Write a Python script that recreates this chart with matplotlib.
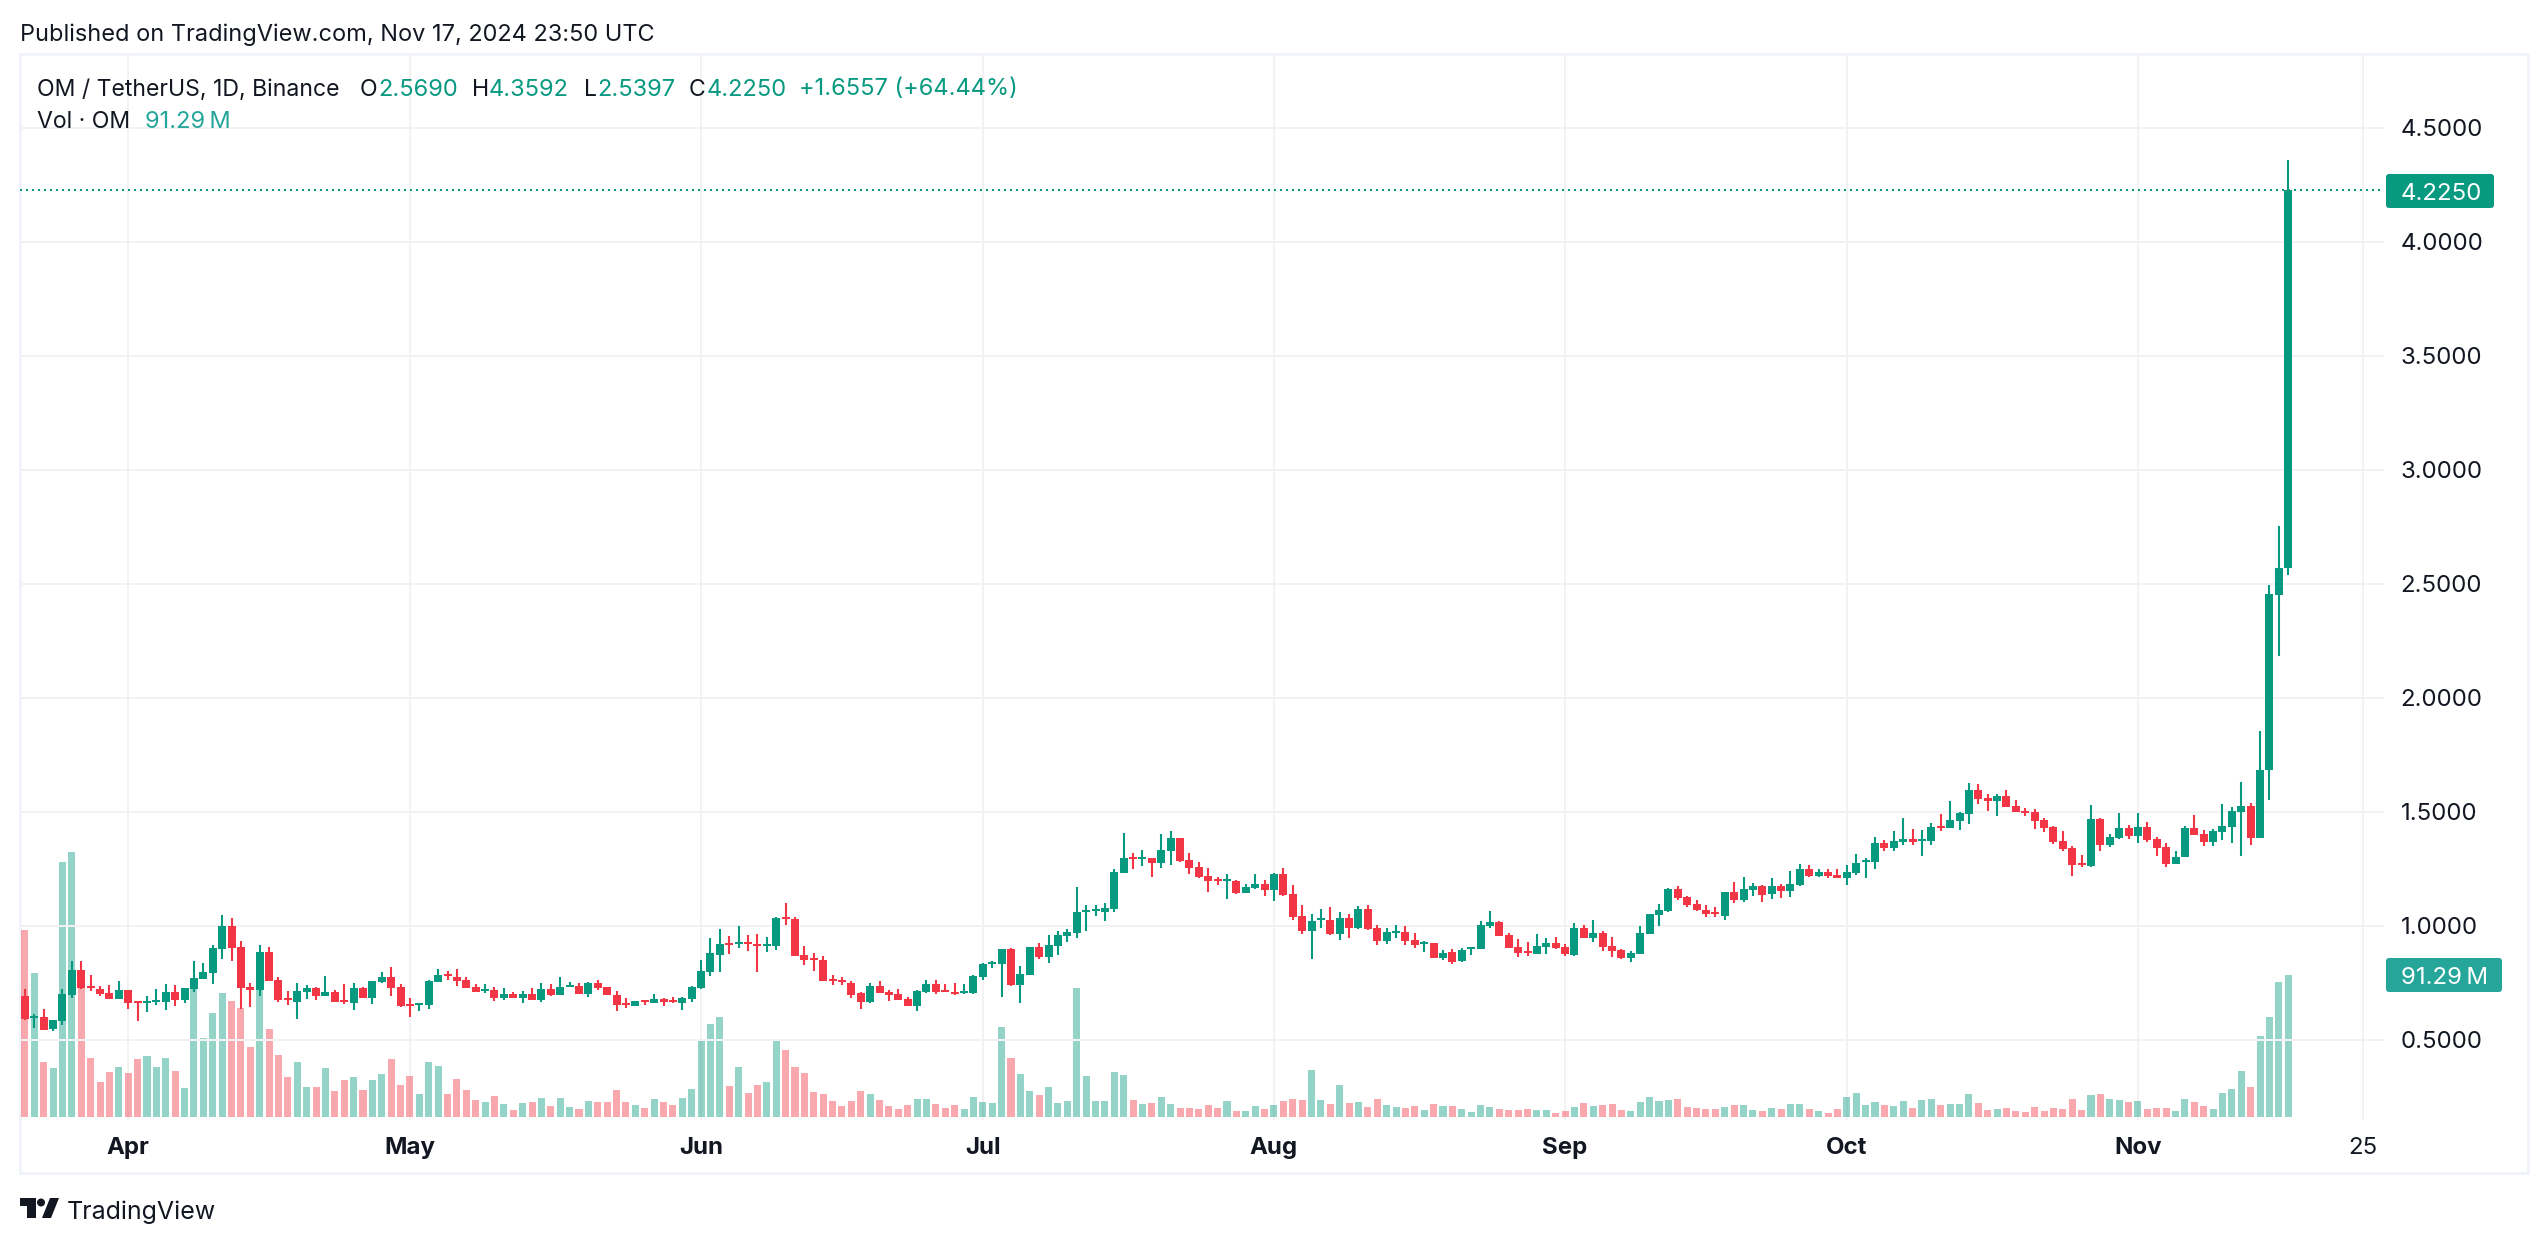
import numpy as np
import matplotlib
matplotlib.use("Agg")
import matplotlib.pyplot as plt
from matplotlib.patches import Rectangle, FancyBboxPatch, Polygon, Circle

plt.rcParams["font.family"] = ["Inter", "DejaVu Sans"]

# daily candles, Mar 21 to Nov 17 2024
directions = (
    "RGRGGGRRRR" "GRRGGGRGGG" "GGRRRGRRRG" "GRGRRGRGGR" "RRGGGRRRRG" "RGRGRGRGGR"
    "GRRRRGRGRR" "GGGGGRGRRG" "GRRRRRRRRR" "GRRRRGGRRR" "GGGGGRGGRG" "GGGGGGGGRG"
    "RGGRRRRRGR" "GGRGRRRGGR" "GRGRRGGRRG" "RGRGGGGRRR" "RGGRRGRGRR" "RGGGGGRRRR"
    "RGRGGRGRGG" "RGRRGGGGRG" "GRGGRGGGRR" "GRRRRRRRRR" "GRGGRGRRRG" "GRRGGGGRGG"
    "GG"
)
body_top = [
    .692, .604, .599, .586, .700, .806, .806, .735, .722, .705,
    .718, .718, .670, .670, .674, .709, .709, .727, .770, .796,
    .902, .999, .999, .906, .731, .884, .884, .762, .683, .713,
    .727, .727, .709, .709, .674, .727, .727, .757, .775, .775,
    .731, .656, .661, .757, .784, .788, .775, .762, .731, .722,
    .718, .700, .700, .700, .700, .722, .722, .731, .740, .735,
    .748, .748, .731, .696, .661, .670, .674, .678, .678, .674,
    .683, .731, .801, .880, .919, .924, .928, .928, .919, .919,
    1.034, 1.038, 1.029, .871, .858, .849, .766, .762, .748, .705,
    .735, .735, .709, .700, .678, .713, .744, .744, .718, .709,
    .713, .779, .832, .841, .898, .898, .788, .906, .906, .915,
    .959, .972, 1.060, 1.069, 1.073, 1.077, 1.235, 1.297, 1.301, 1.301,
    1.297, 1.332, 1.385, 1.385, 1.288, 1.257, 1.218, 1.205, 1.205, 1.196,
    1.170, 1.183, 1.183, 1.227, 1.227, 1.139, 1.042, 1.020, 1.034, 1.025,
    1.034, 1.034, 1.073, 1.073, .990, .972, .977, .972, .937, .928,
    .924, .880, .884, .893, .906, 1.003, 1.016, 1.016, .959, .906,
    .889, .911, .924, .924, .906, .990, .990, .968, .968, .911,
    .893, .880, .968, 1.051, 1.069, 1.161, 1.161, 1.126, 1.095, 1.069,
    1.060, 1.148, 1.148, 1.161, 1.174, 1.174, 1.174, 1.174, 1.183, 1.249,
    1.249, 1.235, 1.235, 1.222, 1.235, 1.275, 1.288, 1.363, 1.363, 1.371,
    1.380, 1.380, 1.380, 1.433, 1.437, 1.463, 1.494, 1.595, 1.595, 1.559,
    1.568, 1.568, 1.524, 1.503, 1.498, 1.463, 1.433, 1.371, 1.341, 1.275,
    1.468, 1.468, 1.389, 1.428, 1.428, 1.433, 1.433, 1.380, 1.345, 1.301,
    1.428, 1.428, 1.402, 1.415, 1.437, 1.503, 1.525, 1.525, 1.683, 2.455,
    2.567, 4.225,
]
body_bot = [
    .591, .595, .542, .546, .582, .696, .727, .727, .700, .678,
    .678, .661, .661, .661, .665, .665, .674, .674, .722, .766,
    .792, .898, .902, .727, .718, .718, .757, .674, .674, .665,
    .709, .692, .692, .665, .665, .661, .683, .683, .753, .727,
    .648, .648, .652, .652, .753, .779, .757, .727, .709, .713,
    .683, .683, .683, .683, .674, .674, .696, .696, .731, .700,
    .700, .727, .696, .652, .652, .648, .665, .661, .665, .665,
    .661, .678, .727, .796, .871, .915, .919, .919, .911, .911,
    .911, 1.029, .867, .849, .849, .757, .757, .753, .696, .665,
    .665, .705, .696, .674, .648, .648, .709, .709, .709, .700,
    .705, .705, .775, .832, .832, .740, .740, .784, .863, .863,
    .911, .955, .968, 1.060, 1.064, 1.060, 1.073, 1.231, 1.292, 1.292,
    1.275, 1.275, 1.327, 1.284, 1.253, 1.214, 1.196, 1.196, 1.196, 1.143,
    1.143, 1.165, 1.156, 1.156, 1.135, 1.038, .977, .977, 1.025, .963,
    .963, .990, .990, .985, .933, .933, .968, .933, .915, .920,
    .858, .858, .841, .845, .898, .898, .999, .955, .902, .880,
    .880, .876, .906, .902, .876, .871, .946, .946, .906, .889,
    .858, .858, .876, .963, 1.047, 1.064, 1.121, 1.091, 1.069, 1.051,
    1.051, 1.042, 1.113, 1.113, 1.156, 1.135, 1.139, 1.152, 1.152, 1.178,
    1.218, 1.218, 1.218, 1.209, 1.209, 1.231, 1.279, 1.279, 1.341, 1.341,
    1.367, 1.367, 1.371, 1.371, 1.428, 1.428, 1.459, 1.490, 1.555, 1.546,
    1.546, 1.520, 1.498, 1.494, 1.459, 1.428, 1.367, 1.336, 1.266, 1.266,
    1.262, 1.354, 1.354, 1.384, 1.393, 1.393, 1.376, 1.341, 1.270, 1.270,
    1.301, 1.397, 1.367, 1.367, 1.411, 1.433, 1.498, 1.384, 1.384, 1.683,
    2.451, 2.569,
]
highs = [
    .722, .613, .635, .586, .722, .845, .845, .784, .735, .740,
    .757, .718, .670, .692, .722, .744, .740, .727, .845, .836,
    .915, 1.047, 1.034, .933, .748, .915, .906, .775, .713, .748,
    .740, .731, .779, .718, .744, .748, .731, .757, .796, .818,
    .744, .683, .661, .762, .810, .801, .810, .775, .744, .744,
    .731, .727, .709, .713, .727, .748, .744, .775, .753, .748,
    .753, .762, .731, .713, .683, .670, .674, .700, .683, .687,
    .687, .735, .849, .946, .985, .955, .999, .959, .963, .950,
    1.038, 1.099, 1.038, .911, .880, .867, .784, .775, .757, .709,
    .748, .757, .718, .722, .687, .718, .762, .762, .744, .748,
    .744, .784, .836, .845, .898, .902, .823, .906, .924, .959,
    .977, .985, 1.170, 1.091, 1.091, 1.099, 1.249, 1.406, 1.319, 1.332,
    1.297, 1.402, 1.415, 1.385, 1.319, 1.279, 1.253, 1.214, 1.227, 1.200,
    1.183, 1.227, 1.200, 1.231, 1.253, 1.178, 1.091, 1.051, 1.073, 1.082,
    1.060, 1.051, 1.086, 1.091, 1.003, .990, 1.003, .999, .968, .933,
    .924, .893, .898, .902, .906, 1.020, 1.064, 1.020, .968, .942,
    .928, .963, .946, .950, .920, 1.012, 1.003, 1.025, .977, .950,
    .898, .889, .999, 1.051, 1.095, 1.165, 1.174, 1.130, 1.113, 1.091,
    1.082, 1.148, 1.192, 1.213, 1.187, 1.178, 1.209, 1.183, 1.240, 1.270,
    1.266, 1.249, 1.249, 1.249, 1.266, 1.314, 1.297, 1.389, 1.376, 1.415,
    1.472, 1.424, 1.420, 1.450, 1.490, 1.547, 1.498, 1.626, 1.622, 1.577,
    1.577, 1.595, 1.551, 1.516, 1.512, 1.472, 1.437, 1.415, 1.349, 1.310,
    1.529, 1.472, 1.402, 1.494, 1.441, 1.494, 1.455, 1.389, 1.363, 1.327,
    1.437, 1.485, 1.420, 1.424, 1.533, 1.520, 1.630, 1.538, 1.854, 2.495,
    2.753, 4.3592,
]
lows = [
    .586, .551, .542, .538, .564, .683, .722, .713, .692, .678,
    .678, .635, .582, .621, .652, .630, .648, .661, .709, .766,
    .744, .854, .845, .635, .643, .692, .757, .665, .652, .591,
    .678, .674, .692, .665, .656, .630, .683, .656, .748, .692,
    .643, .599, .626, .635, .753, .762, .735, .727, .709, .705,
    .670, .674, .683, .661, .674, .665, .692, .696, .731, .700,
    .687, .718, .696, .626, .639, .648, .652, .661, .648, .661,
    .630, .665, .722, .779, .796, .876, .902, .889, .796, .884,
    .893, 1.003, .867, .827, .801, .757, .740, .740, .683, .635,
    .661, .705, .670, .674, .648, .626, .705, .700, .709, .696,
    .700, .700, .762, .814, .687, .735, .661, .784, .854, .836,
    .871, .928, .946, .977, 1.042, 1.020, 1.060, 1.231, 1.249, 1.262,
    1.214, 1.253, 1.266, 1.279, 1.227, 1.209, 1.148, 1.178, 1.117, 1.139,
    1.143, 1.161, 1.130, 1.108, 1.130, 1.025, .963, .854, .990, .959,
    .937, .946, .985, .981, .915, .920, .946, .915, .902, .884,
    .858, .849, .832, .841, .871, .898, .990, .955, .902, .863,
    .867, .876, .876, .898, .867, .867, .946, .928, .889, .863,
    .854, .841, .876, .963, .999, 1.060, 1.113, 1.082, 1.064, 1.038,
    1.038, 1.025, 1.099, 1.104, 1.130, 1.104, 1.117, 1.121, 1.126, 1.174,
    1.213, 1.213, 1.209, 1.209, 1.178, 1.222, 1.209, 1.249, 1.327, 1.327,
    1.354, 1.354, 1.305, 1.354, 1.415, 1.428, 1.420, 1.446, 1.533, 1.503,
    1.481, 1.520, 1.498, 1.481, 1.424, 1.411, 1.358, 1.327, 1.218, 1.257,
    1.257, 1.327, 1.345, 1.380, 1.380, 1.363, 1.367, 1.305, 1.257, 1.270,
    1.301, 1.397, 1.349, 1.349, 1.376, 1.363, 1.305, 1.354, 1.384, 1.551,
    2.183, 2.5397,
]
volumes = [
    120.2, 92.6, 35.4, 31.5, 163.9, 170.4, 82.7, 37.9, 22.5, 28.9,
    32.1, 28.3, 37.3, 39.2, 32.1, 37.9, 29.6, 18.6, 82.3, 50.8,
    66.9, 79.7, 74.6, 70.1, 45.0, 81.6, 56.6, 39.9, 25.7, 35.4,
    19.3, 19.3, 31.5, 16.7, 23.8, 25.7, 17.4, 23.8, 27.6, 37.3,
    20.6, 26.4, 14.8, 35.4, 32.8, 14.8, 24.4, 17.4, 10.9, 9.6,
    13.5, 8.4, 4.5, 9.0, 9.6, 12.2, 7.1, 12.2, 6.4, 5.1,
    10.3, 9.6, 9.6, 17.4, 9.6, 7.7, 5.8, 11.6, 9.6, 7.7,
    12.2, 18.0, 49.5, 59.8, 64.3, 19.9, 32.1, 15.4, 20.6, 22.5,
    50.1, 43.1, 32.1, 28.3, 16.1, 14.8, 10.3, 7.1, 10.3, 16.7,
    14.8, 10.9, 7.1, 5.1, 7.7, 11.6, 11.6, 8.4, 5.8, 7.7,
    5.1, 12.9, 9.6, 9.0, 57.9, 37.9, 27.6, 16.7, 14.1, 19.3,
    9.0, 10.3, 82.9, 26.4, 10.3, 10.3, 28.9, 27.0, 10.9, 8.4,
    9.0, 12.9, 8.4, 5.8, 5.8, 5.1, 7.7, 5.8, 10.3, 3.9,
    3.9, 7.1, 5.1, 7.7, 10.3, 11.6, 10.9, 30.2, 10.9, 8.4,
    20.6, 9.0, 9.6, 6.4, 11.6, 7.7, 6.4, 5.8, 7.1, 4.5,
    8.4, 7.1, 7.1, 5.1, 3.2, 7.7, 6.4, 5.1, 4.5, 4.5,
    5.1, 4.5, 4.5, 2.6, 3.9, 6.4, 9.0, 7.1, 7.7, 8.4,
    4.5, 3.9, 9.6, 12.9, 10.3, 10.9, 11.6, 6.4, 5.8, 5.1,
    5.1, 6.4, 7.7, 7.7, 4.5, 3.9, 5.8, 5.1, 8.4, 8.4,
    5.1, 3.9, 2.6, 5.1, 12.9, 15.4, 7.7, 9.6, 7.7, 7.1,
    10.3, 5.8, 10.9, 11.6, 7.7, 8.4, 8.4, 14.8, 9.0, 4.5,
    5.1, 5.8, 3.9, 3.2, 6.4, 3.9, 5.8, 5.1, 11.6, 4.5,
    14.1, 14.8, 11.6, 10.9, 9.6, 10.3, 5.1, 5.8, 5.8, 3.9,
    11.6, 9.6, 7.1, 5.1, 15.4, 18.0, 29.6, 19.3, 52.1, 64.3,
    86.8, 91.29,
]
price_ticks = [0.5, 1.0, 1.5, 2.0, 2.5, 3.0, 3.5, 4.0, 4.5]
date_ticks = [11, 41, 72, 102, 133, 164, 194, 225, 249]
date_labels = ["Apr", "May", "Jun", "Jul", "Aug", "Sep", "Oct", "Nov", "25"]
last_close = 4.225
last_volume = 91.29

GREEN = "#089981"
RED = "#F23645"
VOL_TEAL = "#26A69A"
INK = "#131722"
GRID = "#F2F2F3"
FRAME = "#F0F3FA"
W, H = 2548, 1244
PANE = (20, 54, 2384, 1120)  # left, top, right, bottom in pixels


def pane_rect():
    left, top, right, bottom = PANE
    return [left / W, 1 - bottom / H, (right - left) / W, (bottom - top) / H]


fig = plt.figure(figsize=(W / 100, H / 100), dpi=100, facecolor="white")

# pixel canvas for the frame and the header
canvas = fig.add_axes([0, 0, 1, 1])
canvas.set_xlim(0, W)
canvas.set_ylim(H, 0)
canvas.axis("off")
canvas.add_patch(Rectangle((20, 54), 2508, 1119, fill=False, ec=FRAME, lw=2.0))

idx = np.arange(len(volumes))
colors = [GREEN if d == "G" else RED for d in directions]
top = np.array(body_top)
bot = np.array(body_bot)

# volume pane shares the space with the price pane
ax_vol = fig.add_axes(pane_rect())
ax_vol.patch.set_alpha(0)
ax_vol.set_xlim(-0.522, 251.2)
ax_vol.set_ylim(-1.93, 683.4)
ax_vol.bar(idx, volumes, width=0.75, color=colors, alpha=0.43, linewidth=0, zorder=3)
ax_vol.set_yticks([])
ax_vol.set_xticks(date_ticks)
ax_vol.set_xticklabels(date_labels, fontsize=17.3, color=INK, fontweight="bold")
ax_vol.get_xticklabels()[-1].set_fontweight("normal")
ax_vol.tick_params(axis="x", length=0, pad=12)
ax_vol.grid(axis="x", color=GRID, lw=1.44, zorder=0)
ax_vol.set_axisbelow(True)
for s in ax_vol.spines.values():
    s.set_visible(False)

ax = fig.add_axes(pane_rect())
ax.patch.set_alpha(0)
ax.set_xlim(-0.522, 251.2)
ax.set_ylim(0.148, 4.823)
ax.vlines(idx, lows, highs, colors=colors, lw=1.5, zorder=4)
ax.bar(idx, top - bot, bottom=bot, width=0.85, color=colors, linewidth=0, zorder=5)
ax.axhline(last_close, color=GREEN, lw=1.44, ls=(0, (1, 2)), zorder=3)
ax.set_xticks([])
ax.yaxis.tick_right()
ax.set_yticks(price_ticks)
ax.set_yticklabels([f"{p:.4f}" for p in price_ticks], fontsize=17.3, color=INK)
ax.tick_params(axis="y", length=0, pad=12)
ax.grid(axis="y", color=GRID, lw=1.44, zorder=0)
ax.set_axisbelow(True)
for s in ax.spines.values():
    s.set_visible(False)

# last value tags on the price scale
overlay = fig.add_axes([0, 0, 1, 1])
overlay.set_xlim(0, W)
overlay.set_ylim(H, 0)
overlay.axis("off")
overlay.patch.set_alpha(0)
overlay.add_patch(FancyBboxPatch((2388, 176), 104, 30, boxstyle="round,pad=2,rounding_size=3",
                                 fc=GREEN, ec="none"))
overlay.text(2401, 191, f"{last_close:.4f}", color="white", fontsize=17.3, va="center_baseline")
overlay.add_patch(FancyBboxPatch((2388, 960), 112, 30, boxstyle="round,pad=2,rounding_size=3",
                                 fc=VOL_TEAL, ec="none"))
overlay.text(2401, 975, f"{last_volume:.2f}\u2009M", color="white", fontsize=17.3, va="center_baseline")

# header
overlay.text(20, 32, "Published on TradingView.com, Nov 17, 2024 23:50 UTC", color=INK,
             fontsize=16.95, va="center_baseline")
hdr = dict(fontsize=16.6, va="center_baseline")
overlay.text(37, 87, "OM / TetherUS, 1D, Binance", color=INK, **hdr)
for x, s in [(360, "O"), (472, "H"), (584, "L"), (689, "C")]:
    overlay.text(x, 87, s, color=INK, **hdr)
val = dict(fontsize=17.0, va="center_baseline")
for x, s in [(378, "2.5690"), (489, "4.3592"), (597, "2.5397"), (707, "4.2250"),
             (799, "+1.6557 (+64.44%)")]:
    overlay.text(x, 87, s, color=GREEN, **val)
overlay.text(37, 120, "Vol \u00b7 OM", color=INK, **hdr)
overlay.text(145, 120, f"{last_volume:.2f}\u2009M", color=VOL_TEAL, **val)

# logo
overlay.add_patch(Polygon([(20, 1198), (36, 1198), (36, 1218), (27, 1218), (27, 1206), (20, 1206)],
                          fc=INK, ec="none"))
overlay.add_patch(Circle((41, 1202.5), 4, fc=INK, ec="none"))
overlay.add_patch(Polygon([(50, 1198), (59, 1198), (51, 1218), (42, 1218)], fc=INK, ec="none"))
overlay.text(67, 1210, "TradingView", color=INK, fontsize=18, va="center_baseline")

fig.savefig("out.png", dpi=100, facecolor="white")
